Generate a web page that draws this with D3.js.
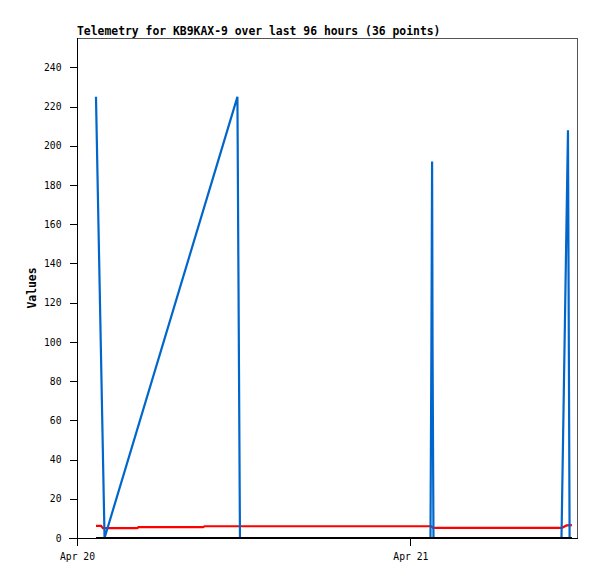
<!DOCTYPE html>
<html>
<head>
<meta charset="utf-8">
<script src="https://cdn.jsdelivr.net/npm/d3@7"></script>
<style>
  html, body { margin: 0; padding: 0; background: #fff; }
  svg { display: block; }
  text { font-family: "DejaVu Sans Mono", "Liberation Mono", monospace; }
</style>
</head>
<body>
<svg id="chart" width="597" height="579"></svg>
<script>
// ---- data ----
const titleText = "Telemetry for KB9KAX-9 over last 96 hours (36 points)";
const yLabel = "Values";
const xDomain = ["2024-04-20T00:00", "2024-04-21T12:00"];
const xTickDates = ["2024-04-20T00:00", "2024-04-21T00:00"];
const xTickLabels = ["Apr 20", "Apr 21"];
const yTicks = [0, 20, 40, 60, 80, 100, 120, 140, 160, 180, 200, 220, 240];
const yMax = 255;

const blueTimes = ["2024-04-20T01:22", "2024-04-20T01:59", "2024-04-20T11:33", "2024-04-20T11:44",
  "2024-04-21T01:27", "2024-04-21T01:31", "2024-04-21T01:34", "2024-04-21T01:36", "2024-04-21T01:40",
  "2024-04-21T10:53", "2024-04-21T11:21", "2024-04-21T11:28", "2024-04-21T11:38"];
const blueValues = [225, 0, 225, 0, 0, 97, 192, 97, 0, 0, 208, 0, 0];

const redTimes = ["2024-04-20T01:22", "2024-04-20T01:44", "2024-04-20T01:52", "2024-04-20T04:19",
  "2024-04-20T04:26", "2024-04-20T09:04", "2024-04-20T09:11", "2024-04-21T01:31", "2024-04-21T01:38",
  "2024-04-21T10:55", "2024-04-21T11:08", "2024-04-21T11:15", "2024-04-21T11:38"];
const redValues = [6.2, 6.2, 5.0, 5.0, 5.5, 5.5, 6.0, 6.0, 5.2, 5.2, 6.0, 6.4, 6.6];

const blackTimes = ["2024-04-20T01:22", "2024-04-21T11:38"];
const blackValues = [0, 0];

// ---- drawing ----
const parse = d3.utcParse("%Y-%m-%dT%H:%M");
const svg = d3.select("#chart");
const L = 77, R = 577, T = 38, B = 538;

const x = d3.scaleUtc().domain(xDomain.map(parse)).range([L, R]);
const y = d3.scaleLinear().domain([0, yMax]).range([B, T]);

// frame (top, right)
svg.append("path")
  .attr("d", `M${L},${T + 0.5}H${R + 0.5}V${B}`)
  .attr("fill", "none").attr("stroke", "#555").attr("stroke-width", 1)
  .attr("shape-rendering", "crispEdges");

const line = d3.line().x(d => x(d[0])).y(d => y(d[1]));
function series(times, values, color, w) {
  const pts = times.map((t, i) => [parse(t), values[i]]);
  svg.append("path").datum(pts).attr("d", line)
    .attr("fill", "none").attr("stroke", color).attr("stroke-width", w)
    .attr("stroke-linejoin", "miter").attr("stroke-linecap", "butt");
}
series(redTimes, redValues, "#ff0000", 2.2);
series(blueTimes, blueValues, "#0066cc", 2.2);
series(blackTimes, blackValues, "#000000", 2);

// y axis
const yAxis = svg.append("g").attr("transform", `translate(${L + 0.5},0)`)
  .attr("shape-rendering", "crispEdges")
  .call(d3.axisLeft(y).tickValues(yTicks).tickSize(8).tickPadding(8).tickSizeOuter(0));
yAxis.select(".domain").attr("d", `M0,${T}V${B + 0.5}`);
yAxis.selectAll("text").attr("font-size", "9.7px").attr("fill", "#000")
  .attr("font-family", "DejaVu Sans Mono, monospace");
yAxis.attr("font-family", null);

// x axis
const xAxis = svg.append("g").attr("transform", `translate(0,${B + 0.5})`)
  .attr("shape-rendering", "crispEdges")
  .call(d3.axisBottom(x).tickValues(xTickDates.map(parse))
    .tickFormat((d, i) => xTickLabels[i]).tickSize(7).tickPadding(8).tickSizeOuter(0));
xAxis.select(".domain").attr("d", `M${L - 8},0H${R + 1}`);
xAxis.selectAll("text").attr("font-size", "9.7px").attr("fill", "#000")
  .attr("font-family", "DejaVu Sans Mono, monospace");
xAxis.attr("font-family", null);

// title
svg.append("text").attr("x", L).attr("y", 34.5)
  .attr("font-size", "11.4px").attr("font-weight", "bold").attr("fill", "#000")
  .text(titleText);

// y label
svg.append("text").attr("transform", `translate(36,288) rotate(-90)`)
  .attr("text-anchor", "middle")
  .attr("font-size", "11.4px").attr("font-weight", "bold").attr("fill", "#000")
  .text(yLabel);
</script>
</body>
</html>
